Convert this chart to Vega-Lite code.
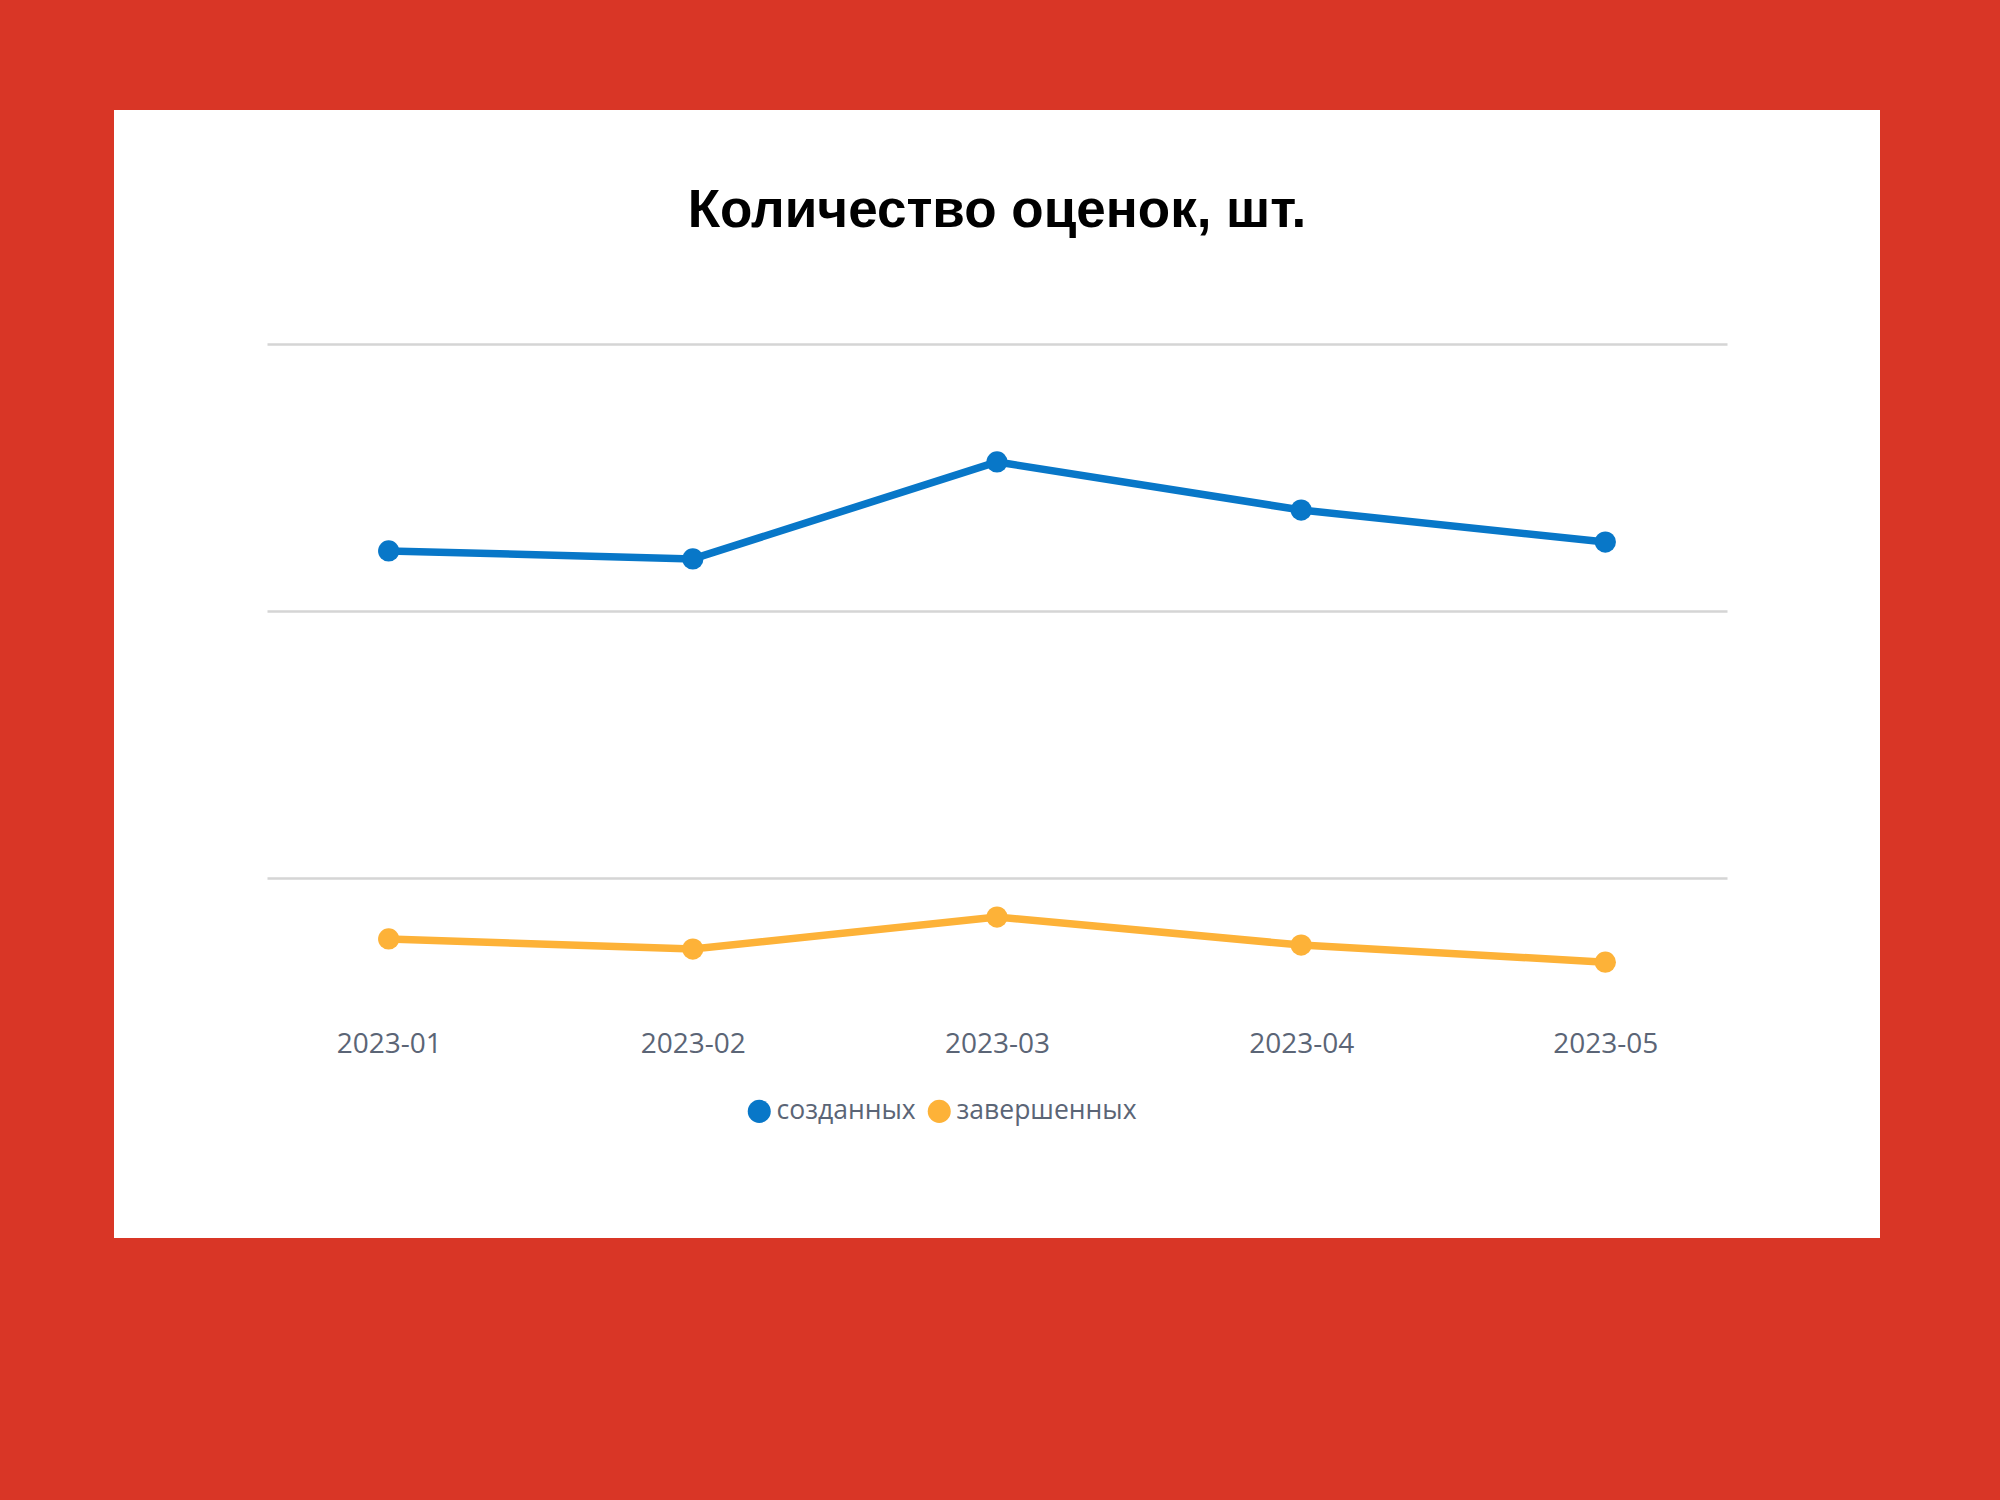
{
  "$schema": "https://vega.github.io/schema/vega-lite/v6.json",
  "autosize": {"type": "none"},
  "width": 1460,
  "height": 822,
  "padding": {"left": 267, "top": 263, "right": 273, "bottom": 415},
  "background": "#d93626",
  "title": {
    "text": "Количество оценок, шт.",
    "font": "Liberation Sans",
    "fontSize": 53,
    "fontWeight": "bold",
    "color": "#000000",
    "anchor": "middle",
    "baseline": "alphabetic",
    "offset": -17
  },
  "data": {
    "values": [
      {"month": "2023-01", "series": "созданных", "count": 2225},
      {"month": "2023-02", "series": "созданных", "count": 2195},
      {"month": "2023-03", "series": "созданных", "count": 2558},
      {"month": "2023-04", "series": "созданных", "count": 2378},
      {"month": "2023-05", "series": "созданных", "count": 2258},
      {"month": "2023-01", "series": "завершенных", "count": 772},
      {"month": "2023-02", "series": "завершенных", "count": 734},
      {"month": "2023-03", "series": "завершенных", "count": 854},
      {"month": "2023-04", "series": "завершенных", "count": 749},
      {"month": "2023-05", "series": "завершенных", "count": 685}
    ]
  },
  "encoding": {
    "x": {
      "field": "month",
      "type": "ordinal",
      "scale": {"type": "point", "padding": 0.4},
      "axis": {
        "title": null,
        "domain": false,
        "ticks": false,
        "tickSize": 0,
        "grid": false,
        "labelAngle": 0,
        "labelPadding": 0,
        "labelBaseline": "alphabetic",
        "offset": -33,
        "labelFont": "Open Sans",
        "labelFontSize": 28,
        "labelColor": "#5b6576"
      }
    },
    "y": {
      "field": "count",
      "type": "quantitative",
      "scale": {"domain": [225, 3303], "nice": false, "zero": false},
      "axis": {
        "title": null,
        "values": [1000, 2000, 3000],
        "labels": false,
        "ticks": false,
        "domain": false,
        "grid": true,
        "gridColor": "#d5d5d5",
        "gridWidth": 2.5
      }
    },
    "color": {
      "field": "series",
      "type": "nominal",
      "scale": {"domain": ["созданных", "завершенных"], "range": ["#0877c8", "#fdb238"]},
      "legend": {
        "title": null,
        "orient": "none",
        "legendX": 479,
        "legendY": 835,
        "direction": "horizontal",
        "symbolType": "circle",
        "symbolSize": 530,
        "symbolStrokeWidth": 0,
        "symbolOpacity": 1,
        "labelFont": "Open Sans",
        "labelFontSize": 26.5,
        "labelColor": "#5b6576",
        "labelLimit": 400,
        "labelOffset": 4,
        "columnPadding": 10
      }
    }
  },
  "layer": [
    {"mark": {"type": "line", "strokeWidth": 7.5}},
    {"mark": {"type": "point", "filled": true, "size": 450, "opacity": 1}}
  ],
  "config": {
    "view": {"fill": "white", "stroke": "white", "strokeWidth": 306}
  }
}
